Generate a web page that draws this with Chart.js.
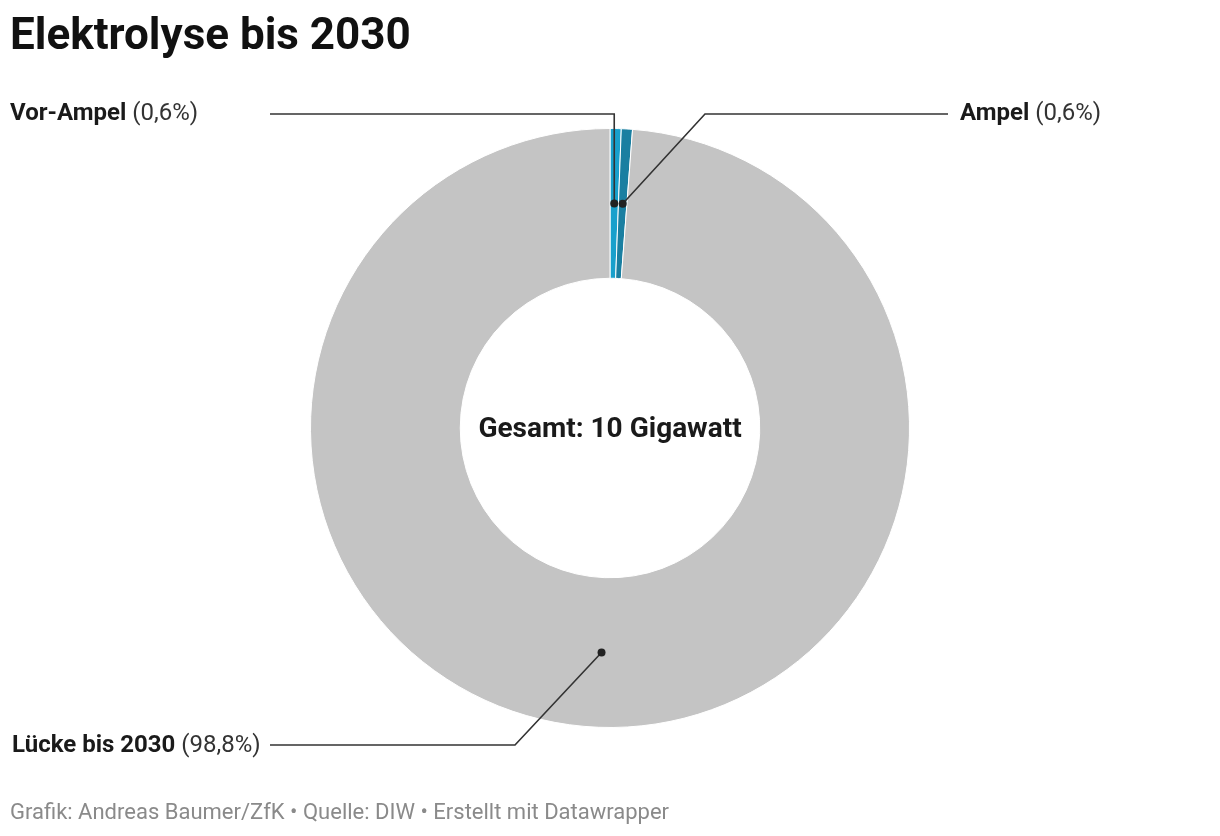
<!DOCTYPE html>
<html lang="de">
<head>
<meta charset="UTF-8">
<title>Elektrolyse bis 2030</title>
<script src="https://cdn.jsdelivr.net/npm/chart.js"></script>
<style>
  body { margin: 0; background: #fff; font-family: Roboto, sans-serif; }
  #wrap { position: relative; width: 1220px; height: 836px; }
  h1 { position: absolute; left: 10px; top: 8px; margin: 0; font-size: 44px; line-height: 52px; font-weight: 700; color: #111; }
  #foot { position: absolute; left: 10px; top: 798px; font-size: 22px; line-height: 28px; color: #8a8a8a; }
  canvas { position: absolute; left: 0; top: 0; }
</style>
</head>
<body>
<div id="wrap">
  <canvas id="pie" width="1220" height="836"></canvas>
  <h1>Elektrolyse bis 2030</h1>
  <div id="foot">Grafik: Andreas Baumer/ZfK • Quelle: DIW • Erstellt mit Datawrapper</div>
</div>
<script>
const labels = ["Vor-Ampel", "Ampel", "Lücke bis 2030"];
const values = [0.6, 0.6, 98.8];
const valueText = ["(0,6%)", "(0,6%)", "(98,8%)"];
const colors = ["#18a0cc", "#1a7fa1", "#c4c4c4"];
const centerText = "Gesamt: 10 Gigawatt";

// where each label sits and the elbow of its leader line
const labelPos = [
  { x: 10, y: 114, elbow: "vertical", ex: null, ey: 114, endX: 270 },
  { x: 960, y: 114, elbow: "diag", ex: 705, ey: 114, endX: 948 },
  { x: 12, y: 746, elbow: "diag", ex: 515, ey: 745, endX: 270 }
];

const annotate = {
  id: "annotate",
  afterDraw(chart) {
    const ctx = chart.ctx;
    const arcs = chart.getDatasetMeta(0).data;
    ctx.save();
    arcs.forEach((arc, i) => {
      const p = arc.getProps(["x", "y", "startAngle", "endAngle", "innerRadius", "outerRadius"], true);
      const a = (p.startAngle + p.endAngle) / 2;
      const r = (p.innerRadius + p.outerRadius) / 2;
      const dx = p.x + Math.cos(a) * r;
      const dy = p.y + Math.sin(a) * r;
      const L = labelPos[i];
      const ex = L.elbow === "vertical" ? dx : L.ex;
      ctx.strokeStyle = "#333";
      ctx.lineWidth = 1.6;
      ctx.beginPath();
      ctx.moveTo(dx, dy);
      ctx.lineTo(ex, L.ey);
      ctx.lineTo(L.endX, L.ey);
      ctx.stroke();
      ctx.fillStyle = "#222";
      ctx.beginPath();
      ctx.arc(dx, dy, 4, 0, Math.PI * 2);
      ctx.fill();

      ctx.textBaseline = "middle";
      ctx.textAlign = "left";
      ctx.font = "bold 24px Roboto";
      ctx.fillStyle = "#1a1a1a";
      ctx.fillText(labels[i], L.x, L.y);
      const w = ctx.measureText(labels[i] + " ").width;
      ctx.font = "24px Roboto";
      ctx.fillStyle = "#333";
      ctx.fillText(valueText[i], L.x + w, L.y);
    });
    const c = arcs[0];
    ctx.font = "bold 28px Roboto";
    ctx.fillStyle = "#1a1a1a";
    ctx.textAlign = "center";
    ctx.fillText(centerText, c.x, c.y + 2);
    ctx.restore();
  }
};

new Chart(document.getElementById("pie"), {
  type: "doughnut",
  data: {
    labels: labels,
    datasets: [{
      data: values,
      backgroundColor: colors,
      borderColor: "#ffffff",
      borderWidth: 1
    }]
  },
  options: {
    responsive: false,
    animation: false,
    cutout: "50%",
    layout: { padding: { top: 128, bottom: 108, left: 310, right: 310 } },
    plugins: { legend: { display: false }, tooltip: { enabled: false } }
  },
  plugins: [annotate]
});
</script>
</body>
</html>
